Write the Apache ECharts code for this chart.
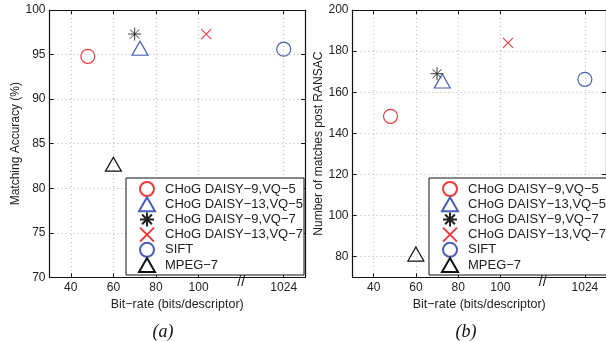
<!DOCTYPE html>
<html>
<head>
<meta charset="utf-8">
<script src="https://cdn.jsdelivr.net/npm/echarts@6/dist/echarts.min.js"></script>
<style>
html, body { margin: 0; padding: 0; background: #fff; }
#main { width: 606px; height: 341px; }
</style>
</head>
<body>
<div id="main"></div>
<script>
// methods (legend order)
var methods = ['CHoG DAISY\u22129,VQ\u22125', 'CHoG DAISY\u221213,VQ\u22125', 'CHoG DAISY\u22129,VQ\u22127', 'CHoG DAISY\u221213,VQ\u22127', 'SIFT', 'MPEG\u22127'];
// bits per descriptor
var bitRates = [48, 72.5, 70, 103.6, 1024, 60];
// (a) matching accuracy %
var accuracy = [94.8, 95.7, 97.3, 97.3, 95.6, 82.7];
// (b) matches after RANSAC
var matches = [148.3, 165.5, 169, 184, 166.3, 81.3];
// x tick labels
var xTicks = [40, 60, 80, 100, 1024];
var accTicks = [70, 75, 80, 85, 90, 95, 100];
var matchTicks = [80, 100, 120, 140, 160, 180, 200];

var FONT = 'Liberation Sans';

var BitrateChart = {
	breakPos: 140, // where 1024 sits on the broken x axis
	init: function() {
		this.chart = echarts.init(document.getElementById('main'), null, {renderer: 'canvas'});
		this.draw();
		this.breakMark();
	},
	mapX: function(v) {
		return v > 500 ? this.breakPos : v;
	},
	markers: [
		{symbol: 'circle', size: 14, color: '#ec3b3b', width: 1.2},
		{symbol: 'triangle', size: [16, 14], color: '#4a5fb3', width: 1.2},
		{symbol: 'path://M0,-1L0,1M-1,0L1,0M-0.7,-0.7L0.7,0.7M-0.7,0.7L0.7,-0.7', size: 13, color: '#222', width: 0.9},
		{symbol: 'path://M0,0L1,1M0,1L1,0', size: 10, color: '#ec3b3b', width: 1.1},
		{symbol: 'circle', size: 14, color: '#4a5fb3', width: 1.2},
		{symbol: 'triangle', size: [16, 14], color: '#111', width: 1.2}
	],
	xAxes: function(gridIndex) {
		var self = this;
		var ticks = xTicks.map(function(v) { return self.mapX(v); });
		var base = {
			gridIndex: gridIndex, type: 'value', min: 30, max: 150,
			axisLine: {show: true, lineStyle: {color: '#111', width: 1.2}},
			axisTick: {show: true, inside: true, length: 4, customValues: ticks, lineStyle: {color: '#111'}}
		};
		var bottom = echarts.util.merge({
			position: 'bottom',
			name: 'Bit\u2212rate (bits/descriptor)', nameLocation: 'middle', nameGap: 18,
			nameTextStyle: {fontFamily: FONT, fontSize: 12.5, color: '#222'},
			axisLabel: {customValues: ticks, margin: 4, fontFamily: FONT, fontSize: 12, color: '#222',
				formatter: function(v) { return v === self.breakPos ? '1024' : v; }},
			splitLine: {show: true, lineStyle: {color: '#b8b8b8', type: [1, 3]}}
		}, base, true);
		var top = echarts.util.merge({
			position: 'top', axisLabel: {show: false}, splitLine: {show: false}
		}, base, true);
		return [bottom, top];
	},
	yAxes: function(gridIndex, min, max, ticks, name) {
		var base = {
			gridIndex: gridIndex, type: 'value', min: min, max: max,
			axisLine: {show: true, lineStyle: {color: '#111', width: 1.2}},
			axisTick: {show: true, inside: true, length: 4, customValues: ticks, lineStyle: {color: '#111'}}
		};
		var left = echarts.util.merge({
			position: 'left',
			name: name, nameLocation: 'middle', nameGap: 28,
			nameTextStyle: {fontFamily: FONT, fontSize: 12, color: '#222'},
			axisLabel: {customValues: ticks, margin: 4, fontFamily: FONT, fontSize: 12, color: '#222'},
			splitLine: {show: true, lineStyle: {color: '#b8b8b8', type: [1, 3]}}
		}, base, true);
		var right = echarts.util.merge({
			position: 'right', axisLabel: {show: false}, splitLine: {show: false}
		}, base, true);
		return [left, right];
	},
	series: function(values, xIdx, yIdx) {
		var self = this;
		return methods.map(function(name, i) {
			var m = self.markers[i];
			return {
				name: name, type: 'scatter',
				xAxisIndex: xIdx, yAxisIndex: yIdx,
				symbol: m.symbol, symbolSize: m.size,
				itemStyle: {color: 'transparent', borderColor: m.color, borderWidth: m.width, opacity: 1},
				emphasis: {disabled: true},
				data: [[self.mapX(bitRates[i]), values[i]]]
			};
		});
	},
	legend: function(left) {
		return {
			left: left, top: 178, orient: 'vertical',
			data: methods,
			itemWidth: 16, itemHeight: 14, itemGap: -0.8,
			padding: [3, 1, 2, 12],
			backgroundColor: '#fff', borderColor: '#111', borderWidth: 1, borderRadius: 0,
			selectedMode: false,
			textStyle: {fontFamily: FONT, fontSize: 13, lineHeight: 14, color: '#222', padding: [0, 0, 0, 5]}
		};
	},
	draw: function() {
		var xa = this.xAxes(0).concat(this.xAxes(1));
		var ya = this.yAxes(0, 70, 100, accTicks, 'Matching Accuracy (%)')
			.concat(this.yAxes(1, 70, 200, matchTicks, 'Number of matches post RANSAC'));
		var option = {
			animation: false,
			backgroundColor: '#fff',
			title: [
				{text: '(a)', left: 158, top: 318, textAlign: 'center',
					textStyle: {fontFamily: 'Liberation Serif', fontStyle: 'italic', fontWeight: 'normal', fontSize: 18, color: '#111'}},
				{text: '(b)', left: 461, top: 318, textAlign: 'center',
					textStyle: {fontFamily: 'Liberation Serif', fontStyle: 'italic', fontWeight: 'normal', fontSize: 18, color: '#111'}}
			],
			grid: [
				{left: 49.5, top: 10, width: 255.5, height: 267.3},
				{left: 352.5, top: 10, width: 254.5, height: 267.3}
			],
			legend: [this.legend(126), this.legend(429)],
			xAxis: xa,
			yAxis: ya,
			series: this.series(accuracy, 0, 0).concat(this.series(matches, 2, 2))
		};
		this.chart.setOption(option);
	},
	breakMark: function() {
		// the "//" on the broken x axis, placed through the axis scale
		var chart = this.chart;
		var marks = [[0, 0], [2, 2]].map(function(idx) {
			var p = chart.convertToPixel({xAxisIndex: idx[0], yAxisIndex: idx[1]}, [120, 70]);
			return {
				type: 'text', x: p[0], y: p[1] + 5, z: 100,
				style: {text: '//', fontFamily: FONT, fontSize: 14, fill: '#111', align: 'center', verticalAlign: 'middle'}
			};
		});
		chart.setOption({graphic: marks});
	}
};

BitrateChart.init();
</script>
</body>
</html>
